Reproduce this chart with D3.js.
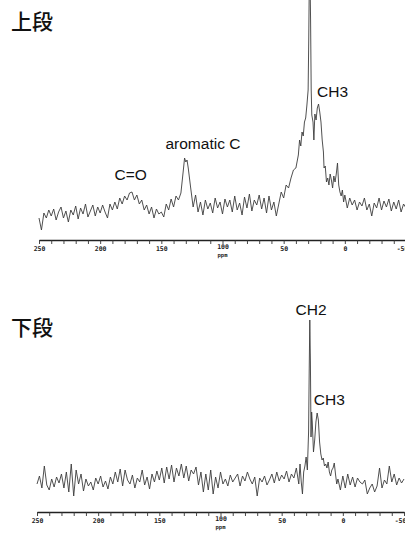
<!DOCTYPE html>
<html>
<head>
<meta charset="utf-8">
<script src="https://cdn.jsdelivr.net/npm/d3@7"></script>
<style>
  body { margin: 0; background: #fff; }
  svg { display: block; }
  .lbl { font-family: "Liberation Sans", Arial, sans-serif; font-size: 15.5px; fill: #111; }
  .ttl { font-family: "Noto Sans CJK JP", sans-serif; font-size: 21px; font-weight: 500; fill: #111; }
  .tick text { font-family: "DejaVu Sans Mono", monospace; font-size: 6.5px; font-weight: bold; fill: #222; }
</style>
</head>
<body>
<div id="chart"></div>
<script>
// 13C NMR spectra, upper (上段) and lower (下段)

// chemical shift (ppm) and intensity, upper spectrum
var upperPpm = [250,248,246,244,242,240,238,236,234,232,230,228,226,224,222,220,218,216,214,212,
  210,208,206,204,202,200,198,196,194,192,190,188,186,184,182,180,178,176,174,172,
  170,168,166,164,162,160,158,156,154,152,150,148,146,144,142,140,138,136,134,132,
  131,130,129,128,126,124,122,120,118,116,114,112,110,108,106,104,102,100,98,96,
  94,92,90,88,86,84,82,80,78,76,74,72,70,68,66,64,62,60,58,56,
  54,52,50,48,46,44,42,40,38,37,36,35,34,33,32,31,30,29.5,29,28.6,
  28,27.5,27,26,25.3,24.5,23.5,22.5,21.5,20.5,19.5,18.5,17.5,17,16,15,14,13,12,11,
  10,9,8,7,6,5,4,3,2,1,0,-2,-4,-6,-8,-10,-12,-14,-16,-18,
  -20,-22,-24,-26,-28,-30,-32,-34,-36,-38,-40,-42,-44,-46,-48,-50];
var upperInt = [22,10,27,22,30,24,31,20,28,33,22,29,18,30,25,34,21,32,26,36,
  23,29,35,24,33,27,35,28,22,36,30,38,31,42,36,44,40,47,48,40,
  45,36,40,30,35,26,33,22,31,26,28,23,36,30,41,33,44,40,47,70,
  82,78,80,72,52,33,45,28,38,25,40,31,37,27,42,32,38,26,41,33,
  40,28,44,30,37,25,43,32,46,29,40,35,45,31,42,27,44,30,38,24,
  36,48,42,55,52,62,70,72,85,100,94,108,104,118,122,135,150,200,265,275,
  220,150,125,118,100,126,120,132,136,128,118,100,88,72,74,58,62,55,66,60,
  52,64,58,66,77,55,48,44,50,38,45,32,42,35,40,30,38,34,42,30,
  36,24,37,32,42,30,39,33,41,29,38,31,40,28,36,32];

// chemical shift (ppm) and intensity, lower spectrum
var lowerPpm = [250,248,246,244,242,240,238,236,234,232,230,228,226,224,222,220,218,216,214,212,
  210,208,206,204,202,200,198,196,194,192,190,188,186,184,182,180,178,176,174,172,
  170,168,166,164,162,160,158,156,154,152,150,148,146,144,142,140,138,136,134,132,
  130,128,126,124,122,120,118,116,114,112,110,108,106,104,102,100,98,96,94,92,
  90,88,86,84,82,80,78,76,74,72,70,68,66,64,62,60,58,56,54,52,
  50,48,46,44,42,40,38,36,35,34,33,32,31,30,29,28,27.5,27,26.5,26,
  25.5,25,24,23,22,21,20,19,18,17,16,15,14,13,12,11,10,9,8,7,
  6,5,4,2,0,-2,-4,-6,-8,-10,-12,-14,-16,-18,-20,-22,-24,-26,-28,-30,
  -32,-34,-36,-38,-40,-42,-44,-46,-48,-50];
var lowerInt = [28,36,24,46,27,22,33,25,35,29,38,24,40,20,48,16,42,28,38,21,
  33,26,30,22,34,28,36,25,31,23,35,28,40,30,43,26,42,32,28,37,
  24,34,30,42,27,35,23,38,30,41,32,44,29,45,33,47,30,44,36,48,
  34,46,31,42,38,45,27,40,20,38,22,42,18,35,24,40,28,33,26,37,
  30,34,38,26,36,31,40,33,28,35,16,34,30,36,27,32,38,29,40,31,
  37,33,41,30,38,34,44,28,48,30,18,40,46,55,42,80,140,192,150,75,
  100,90,60,72,90,99,92,70,58,52,54,46,48,44,50,40,36,42,44,49,
  38,28,33,22,36,24,38,27,35,25,34,30,28,32,18,24,28,20,26,44,
  24,32,28,46,30,38,27,34,29,33];

// tick values along the shift axis
var ppmTicks = [250,240,230,220,210,200,190,180,170,160,150,140,130,120,110,100,90,80,70,60,50,40,30,20,10,0,-10,-20,-30,-40,-50];
var ppmLabels = [250,200,150,100,50,0,-50];

// peak labels
var upperNames = ["C=O", "aromatic C", "CH3"];
var upperNamePpm = [175, 116, 10];
var upperNameInt = [60, 91, 143];
var lowerNames = ["CH2", "CH3"];
var lowerNamePpm = [26, 11];
var lowerNameInt = [197, 107];

var svgWidth = 405;
var svgHeight = 533;

var svg = d3.select("#chart")
  .append("svg")
  .attr("width", svgWidth)
  .attr("height", svgHeight);

function drawPanel(opt) {
  var x = d3.scaleLinear().domain([250, -50]).range([opt.left, opt.right]);
  var y = d3.scaleLinear().domain([0, 240]).range([opt.axisY, opt.axisY - 240]);

  var g = svg.append("g");

  // shift axis
  var axis = d3.axisBottom(x)
    .tickValues(ppmTicks)
    .tickSize(4)
    .tickSizeOuter(0)
    .tickFormat(d => ppmLabels.indexOf(d) >= 0 ? d : "");

  var ax = g.append("g")
    .attr("transform", `translate(0, ${opt.axisY})`)
    .call(axis);
  ax.select(".domain").attr("stroke", "#222").attr("stroke-width", 1.3);
  ax.selectAll(".tick line").attr("stroke", "#333").attr("stroke-width", 0.9);
  ax.selectAll(".tick text")
    .attr("dy", d => d === 100 ? "0.35em" : "0.55em")
    .attr("dx", d => d === -50 ? "-4" : "0");

  g.append("text")
    .attr("x", x(100))
    .attr("y", opt.axisY + 17)
    .attr("text-anchor", "middle")
    .style("font-family", "DejaVu Sans Mono, monospace")
    .style("font-size", "5.5px")
    .style("font-weight", "bold")
    .style("fill", "#222")
    .text("ppm");

  // spectrum trace
  var pts = opt.ppm.map((p, i) => [p, opt.ints[i]]);
  var line = d3.line()
    .x(d => x(d[0]))
    .y(d => y(d[1]));

  g.append("path")
    .datum(pts)
    .attr("fill", "none")
    .attr("stroke", "#3c3c3c")
    .attr("stroke-width", 0.9)
    .attr("stroke-linejoin", "round")
    .attr("d", line);

  // peak labels
  g.selectAll(".lbl")
    .data(opt.names)
    .enter()
    .append("text")
    .attr("class", "lbl")
    .attr("x", (d, i) => x(opt.namePpm[i]))
    .attr("y", (d, i) => y(opt.nameInt[i]))
    .attr("text-anchor", "middle")
    .text(d => d);

  g.append("text")
    .attr("class", "ttl")
    .attr("x", 11)
    .attr("y", opt.titleY)
    .text(opt.title);
}

drawPanel({
  left: 39, right: 406, axisY: 240, titleY: 29, title: "上段",
  ppm: upperPpm, ints: upperInt,
  names: upperNames, namePpm: upperNamePpm, nameInt: upperNameInt
});

drawPanel({
  left: 37, right: 404, axisY: 512, titleY: 335, title: "下段",
  ppm: lowerPpm, ints: lowerInt,
  names: lowerNames, namePpm: lowerNamePpm, nameInt: lowerNameInt
});
</script>
</body>
</html>
